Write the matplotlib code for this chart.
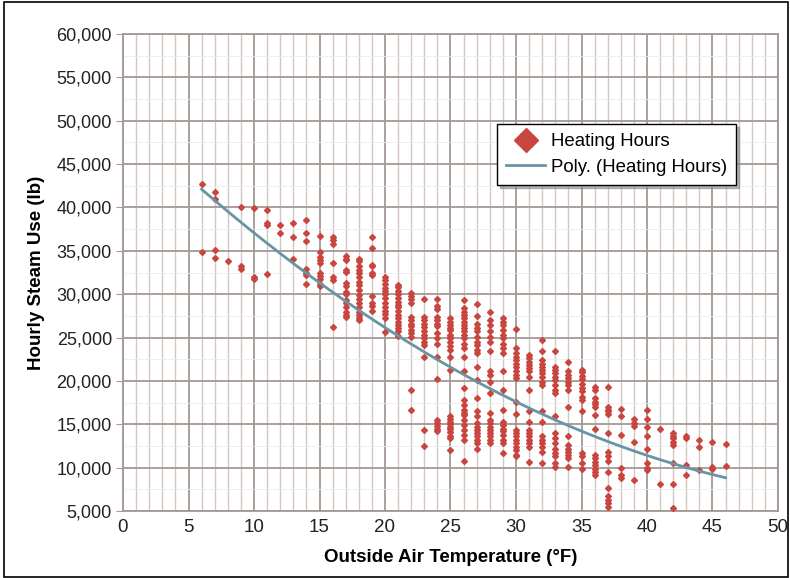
import numpy as np
import matplotlib
matplotlib.use("Agg")
import matplotlib.pyplot as plt
from matplotlib.lines import Line2D
from matplotlib.patches import Rectangle

# hourly steam use (lb), one list per outside air temperature (F)
steam_06 = [42700, 34900]
steam_07 = [41800, 41000, 35100, 34200]
steam_08 = [33800]
steam_09 = [40000, 33200, 32900]
steam_10 = [39900, 32000, 31800]
steam_11 = [39700, 38200, 38000, 32300]
steam_12 = [38000, 37100]
steam_13 = [38200, 36600, 34000]
steam_14 = [38500, 37100, 36100, 32900, 32500, 32200, 31200]
steam_15 = [36700, 34900, 34300, 33900, 33600, 32400, 32100, 31800, 31200, 30900]
steam_16 = [36600, 36300, 35800, 33600, 32000, 31600, 26200]
steam_17 = [34400, 34100, 33900, 32800, 32600, 31300, 30900, 30300, 30000, 29300,
            29000, 28500, 28000, 27600, 27400]
steam_18 = [34100, 33800, 33200, 32800, 32400, 32000, 31400, 31100, 30500, 29900,
            29500, 29000, 28500, 28000, 27600, 27300, 27000]
steam_19 = [36600, 35300, 33400, 33200, 32400, 32200, 29800, 29000, 28600, 28100]
steam_20 = [32000, 31600, 31200, 30700, 30400, 30000, 29600, 29000, 28500, 28100,
            27700, 27300, 25600]
steam_21 = [31100, 30800, 30400, 30000, 29600, 29100, 28800, 28500, 28100, 27600,
            27200, 26800, 26500, 26100, 25700, 25200]
steam_22 = [30100, 29800, 29400, 29000, 27400, 27000, 26600, 26300, 25900, 25500,
            25100, 19000, 16600]
steam_23 = [29400, 27400, 27000, 26600, 26200, 25700, 25300, 24900, 24500, 24100,
            22700, 14300, 12500]
steam_24 = [29500, 28600, 28300, 27400, 27000, 26600, 26300, 25500, 24900, 24300,
            22800, 20200, 15500, 15200, 14800, 14400, 14200]
steam_25 = [27200, 26800, 26500, 26100, 25900, 25300, 25100, 24900, 24500, 24000,
            23600, 22800, 21300, 15900, 15600, 15300, 15000, 14700, 14400, 14100,
            13600, 13400, 12000]
steam_26 = [29300, 28400, 28000, 27600, 27200, 26800, 26500, 26100, 25700, 25300,
            24900, 24300, 23800, 22800, 21100, 19200, 17800, 17200, 16700, 16300,
            16100, 15500, 14900, 14300, 13800, 13200, 10800]
steam_27 = [28900, 27500, 26600, 26100, 25700, 25100, 24500, 24100, 23600, 23200,
            21600, 20100, 18000, 16500, 16000, 15100, 14700, 14300, 14000, 13600,
            13200, 12800, 12100]
steam_28 = [28000, 27000, 26500, 25700, 25100, 24500, 23400, 21100, 20700, 19900,
            18600, 16300, 15500, 15100, 14700, 14300, 14000, 13600, 13200, 12800]
steam_29 = [27200, 26800, 26500, 25900, 25300, 24900, 24300, 23800, 23200, 21100,
            19000, 16700, 15300, 14900, 14500, 14200, 13800, 13200, 12800, 11700]
steam_30 = [26000, 23800, 23200, 22800, 22400, 22000, 21600, 21100, 20700, 20300,
            17600, 16200, 14300, 14000, 13600, 13200, 12800, 12400, 12000, 11500, 11300]
steam_31 = [23000, 22600, 22200, 21800, 21500, 21100, 20500, 19000, 16500, 15300,
            14300, 14000, 13600, 13200, 12800, 12400, 10600]
steam_32 = [24700, 23400, 22400, 22000, 21600, 21300, 20900, 20400, 19900, 19500,
            16500, 15300, 13600, 13200, 12800, 12400, 11800, 10500]
steam_33 = [23400, 21600, 21300, 20900, 20500, 20100, 19500, 19000, 18600, 15900,
            14000, 13400, 12800, 12200, 11700, 11300, 10500, 10100]
steam_34 = [22200, 21100, 20700, 20300, 19900, 19500, 19000, 17000, 13600, 12600,
            12200, 11800, 11500, 11100, 10100]
steam_35 = [21300, 21000, 20600, 20200, 19700, 19200, 18800, 18200, 17800, 16500,
            11700, 11300, 10500, 9900]
steam_36 = [19300, 19000, 18000, 17600, 17300, 17000, 16100, 14500, 11500, 11100,
            10700, 10300, 9900, 9500, 9200]
steam_37 = [19300, 17000, 16700, 16500, 16200, 14000, 11800, 11300, 10800, 9500,
            7700, 6700, 6300, 5900, 5500]
steam_38 = [16800, 16000, 13800, 10000, 9200, 8800]
steam_39 = [15600, 15200, 14800, 13000, 8600]
steam_40 = [16700, 15600, 14700, 13600, 12200, 10500, 10000, 9700]
steam_41 = [14400, 8100]
steam_42 = [14000, 13700, 13400, 13000, 12600, 10500, 8100, 5300]
steam_43 = [13600, 13400, 10300, 9200]
steam_44 = [13200, 12400, 9700]
steam_45 = [13000, 10100, 9800]
steam_46 = [12700, 10200]

temps = list(range(6, 47))
steam_columns = [steam_06, steam_07, steam_08, steam_09, steam_10, steam_11, steam_12,
                 steam_13, steam_14, steam_15, steam_16, steam_17, steam_18, steam_19,
                 steam_20, steam_21, steam_22, steam_23, steam_24, steam_25, steam_26,
                 steam_27, steam_28, steam_29, steam_30, steam_31, steam_32, steam_33,
                 steam_34, steam_35, steam_36, steam_37, steam_38, steam_39, steam_40,
                 steam_41, steam_42, steam_43, steam_44, steam_45, steam_46]

# poly trendline coefficients (x^2, x, 1);
# a fit of the points above runs a bit high since overlapping dots can't be counted
trend_coef = [11.83, -1446.8, 50355]

x_ticks = [0, 5, 10, 15, 20, 25, 30, 35, 40, 45, 50]
y_ticks = [5000, 10000, 15000, 20000, 25000, 30000, 35000,
           40000, 45000, 50000, 55000, 60000]
y_tick_labels = ["5,000", "10,000", "15,000", "20,000", "25,000", "30,000",
                 "35,000", "40,000", "45,000", "50,000", "55,000", "60,000"]

RED = "#c8463f"
TREND = "#6895a3"
MAJOR = "#a39894"
MINOR = "#d0c8c5"
SANS = ["Liberation Sans", "DejaVu Sans"]
NARROW = ["Liberation Sans Narrow", "Liberation Sans", "DejaVu Sans"]

# flatten the columns into x/y pairs
temp_all = np.concatenate([[t] * len(col) for t, col in zip(temps, steam_columns)])
steam_all = np.concatenate(steam_columns)

xs = np.linspace(min(temps), max(temps), 200)
ys = np.polyval(trend_coef, xs)

fig = plt.figure(figsize=(7.9, 5.78), dpi=100)
ax = fig.add_axes([123 / 790, 1 - 511 / 578, 655 / 790, 477 / 578])

ax.plot(temp_all, steam_all, linestyle="none", marker="D", ms=3.0,
        color=RED, mec=RED, zorder=3)
ax.plot(xs, ys, color=TREND, lw=2.0, zorder=4)

ax.set_xlim(0, 50)
ax.set_ylim(5000, 60000)
ax.set_xticks(x_ticks)
ax.set_xticks(range(0, 51), minor=True)
ax.set_yticks(y_ticks)
ax.set_yticks(range(7500, 60000, 5000), minor=True)
ax.set_yticklabels(y_tick_labels, family=SANS, fontsize=13, color="#222222")
ax.set_xticklabels([str(t) for t in x_ticks], family=NARROW, fontsize=13.5, color="#222222")

ax.grid(which="major", axis="x", color=MAJOR, lw=1.3)
ax.grid(which="minor", axis="x", color=MINOR, lw=1.0)
ax.grid(which="major", axis="y", color=MAJOR, lw=1.3)
ax.grid(which="minor", axis="y", color="#ececf0", lw=0.6)
ax.set_axisbelow(True)

ax.tick_params(axis="x", which="both", length=0, pad=6)
ax.tick_params(axis="y", which="major", length=5, color=MAJOR, pad=3)
ax.tick_params(axis="y", which="minor", length=0)
for s in ax.spines.values():
    s.set_color(MAJOR)
    s.set_linewidth(1.3)

ax.set_xlabel("Outside Air Temperature (°F)", family=NARROW, fontsize=13.5,
              fontweight="bold", labelpad=9)
ax.set_ylabel("Hourly Steam Use (lb)", family=SANS, fontsize=13.5,
              fontweight="bold", labelpad=8)

handles = [Line2D([], [], linestyle="none", marker="D", ms=12, color=RED),
           Line2D([], [], color=TREND, lw=2.0)]
leg = ax.legend(handles, ["Heating Hours", "Poly. (Heating Hours)"],
                loc="upper left", bbox_to_anchor=(0.571, 0.811), borderaxespad=0,
                prop={"family": SANS, "size": 13.4}, fancybox=False, framealpha=1,
                edgecolor="black", shadow={"color": "#888888", "alpha": 0.6},
                handlelength=2.1, handletextpad=0.3, borderpad=0.5, labelspacing=0.45)
leg.get_frame().set_linewidth(1.0)

# thin frame round the whole figure
fig.patches.append(Rectangle((4 / 790, 0.001), 784 / 790, 0.996, transform=fig.transFigure,
                             fill=False, edgecolor="black", lw=1.2))

fig.savefig("out.png", dpi=100)
